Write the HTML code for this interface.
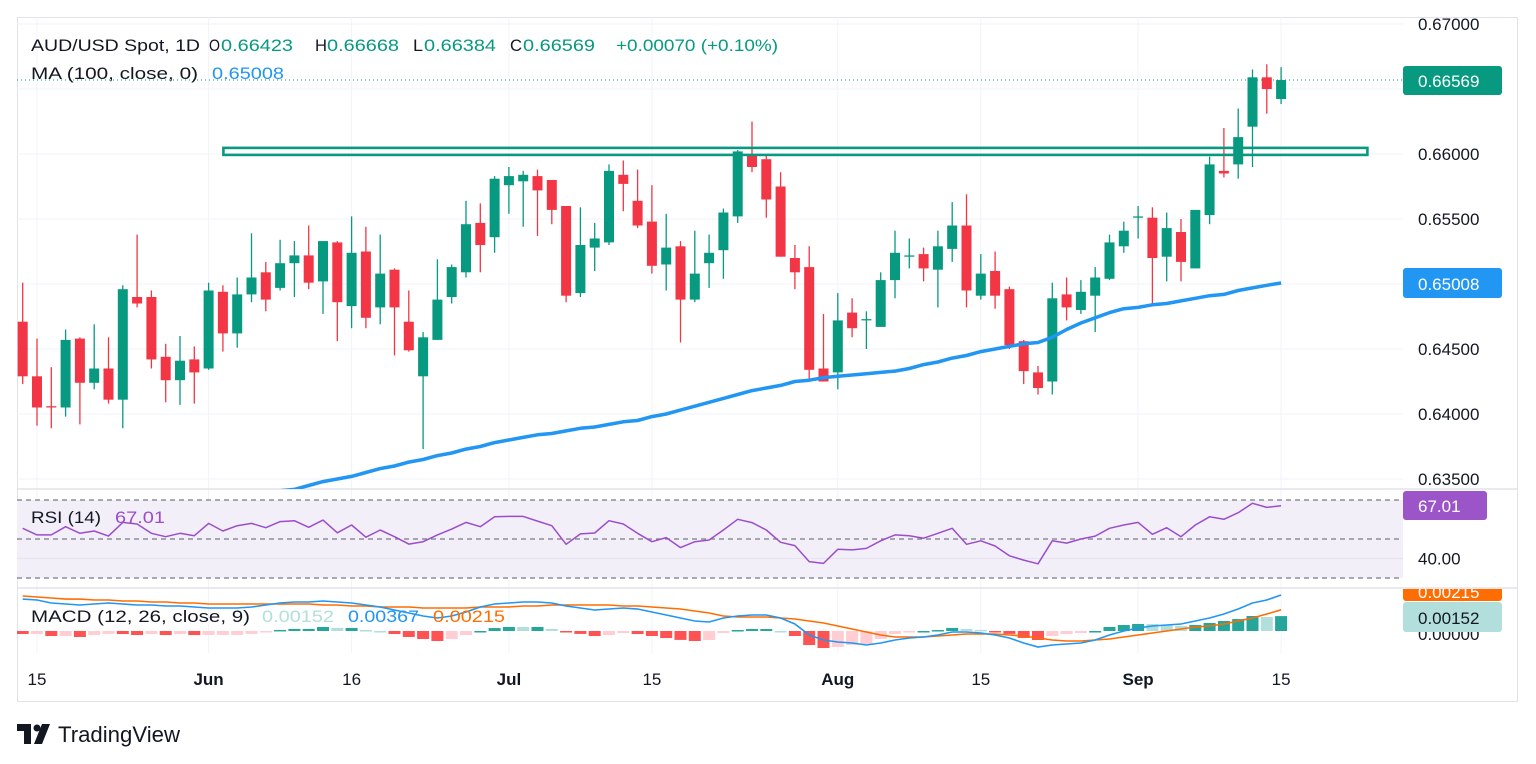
<!DOCTYPE html>
<html><head><meta charset="utf-8"><title>AUD/USD Chart</title>
<style>
html,body{margin:0;padding:0;background:#fff;}
svg{display:block;font-family:"Liberation Sans",sans-serif;}
</style></head>
<body>
<svg id="chart" width="1536" height="764" viewBox="0 0 1536 764" xmlns="http://www.w3.org/2000/svg">
<defs>
<clipPath id="mainClip"><rect x="17" y="17" width="1386" height="472"/></clipPath>
<clipPath id="rsiClip"><rect x="17" y="489" width="1386" height="99"/></clipPath>
<clipPath id="macdClip"><rect x="17" y="588" width="1386" height="65"/></clipPath>
<clipPath id="macdAxisClip"><rect x="1403" y="589" width="115" height="64"/></clipPath>
</defs>
</svg>
<script>
const opens=[.6471,.6429,.6406,.6405,.6458,.6424,.6435,.6411,.6490,.6490,.6444,.6426,.6442,.6435,.6494,.6462,.6492,.6509,.6497,.6516,.6522,.6502,.6532,.6483,.6525,.6482,.6511,.6471,.6429,.6457,.6490,.6509,.6547,.6536,.6576,.6579,.6583,.6580,.6560,.6493,.6528,.6532,.6584,.6564,.6548,.6515,.6529,.6488,.6516,.6526,.6552,.6600,.6596,.6575,.6520,.6513,.6435,.6432,.6478,.6473,.6467,.6503,.6522,.6523,.6511,.6527,.6545,.6491,.6510,.6496,.6456,.6432,.6425,.6492,.6480,.6491,.6504,.6529,.6551,.6551,.6521,.6540,.6512,.6553,.6587,.6592,.6621,.6659,.66423];
const highs=[.6501,.6458,.6436,.6465,.6459,.6469,.6459,.6499,.6538,.6495,.6454,.6460,.6452,.6501,.6499,.6505,.6539,.6517,.6534,.6533,.6545,.6533,.6533,.6552,.6544,.6538,.6512,.6495,.6463,.6519,.6515,.6564,.6562,.6583,.6590,.6587,.6588,.6580,.6560,.6559,.6547,.6592,.6595,.6588,.6576,.6554,.6533,.6541,.6538,.6558,.6603,.6625,.6599,.6586,.6530,.6529,.6477,.6493,.6489,.6479,.6509,.6541,.6535,.6528,.6541,.6563,.6569,.6523,.6525,.6498,.6457,.6437,.6501,.6505,.6503,.6513,.6538,.6548,.6560,.6559,.6555,.6550,.6557,.6598,.6620,.6635,.6665,.6669,.66668];
const lows=[.6423,.6391,.6389,.6398,.6392,.6419,.6408,.6389,.6482,.6435,.6409,.6407,.6408,.6434,.6448,.6451,.6486,.6479,.6495,.6490,.6496,.6477,.6456,.6466,.6466,.6469,.6445,.6448,.6373,.6457,.6485,.6505,.6509,.6524,.6554,.6544,.6537,.6546,.6486,.6490,.6510,.6530,.6556,.6543,.6508,.6495,.6455,.6486,.6497,.6504,.6547,.6586,.6551,.6521,.6496,.6426,.6425,.6419,.6459,.6450,.6467,.6489,.6512,.6502,.6482,.6517,.6482,.6488,.6481,.6450,.6423,.6415,.6415,.6472,.6477,.6463,.6503,.6524,.6535,.6483,.6502,.6502,.6512,.6546,.6582,.6581,.6590,.6631,.66384];
const closes=[.6429,.6405,.6405,.6457,.6424,.6435,.6411,.6496,.6485,.6442,.6426,.6441,.6432,.6495,.6462,.6492,.6505,.6488,.6516,.6522,.6501,.6533,.6486,.6524,.6474,.6508,.6482,.6449,.6459,.6488,.6513,.6546,.6530,.6581,.6583,.6584,.6572,.6557,.6491,.6530,.6535,.6587,.6577,.6545,.6514,.6528,.6488,.6508,.6524,.6555,.6602,.6590,.6565,.6521,.6509,.6434,.6425,.6472,.6466,.6473,.6503,.6524,.6522,.6512,.6529,.6545,.6495,.6508,.6491,.6453,.6433,.6420,.6489,.6482,.6494,.6505,.6532,.6541,.6552,.6520,.6543,.6517,.6557,.6592,.6585,.6613,.6659,.6650,.66569];
const ma100=[.6299,.6302,.6304,.6306,.6309,.6311,.6313,.6315,.6318,.6320,.6322,.6325,.6327,.6329,.6332,.6334,.6336,.6339,.6341,.6342,.6345,.6348,.6350,.6352,.6355,.6358,.6360,.6363,.6365,.6368,.6370,.6373,.6375,.6378,.6380,.6382,.6384,.6385,.6387,.6389,.6390,.6392,.6394,.6395,.6398,.6400,.6403,.6406,.6409,.6412,.6415,.6418,.6420,.6422,.6425,.6426,.6428,.6429,.6430,.6431,.6432,.6433,.6435,.6438,.6440,.6443,.6445,.6448,.6450,.6452,.6454,.6455,.6459,.6465,.6470,.6474,.6478,.6481,.6482,.6484,.6485,.6487,.6489,.6491,.6492,.6495,.6497,.6499,.65008];
const rsi=[55.5,52.1,52.1,56.3,52.9,54.1,51.5,58.5,57.7,52.9,51.2,52.9,51.7,58.0,54.1,56.8,58.0,55.8,58.9,59.4,56.0,59.7,53.2,57.2,50.9,54.6,51.2,47.4,48.6,52.1,55.1,58.5,56.3,61.4,61.6,61.6,59.2,56.8,47.3,52.6,53.1,59.4,57.7,52.9,48.6,50.7,45.6,48.6,49.5,54.6,60.1,58.4,54.6,48.3,46.6,38.4,37.5,44.7,44.4,45.2,49.1,52.1,51.7,50.4,52.9,55.5,47.3,49.1,46.4,41.4,39.2,37.3,49.1,47.9,50.0,51.5,55.5,57.2,58.5,52.4,55.8,51.2,57.2,61.4,60.1,63.5,68.3,66.2,67.01];
const macdLine=[.00326,.00316,.00286,.00275,.00265,.00275,.00286,.00275,.00265,.00265,.00255,.00255,.00245,.00235,.00235,.00235,.00245,.00265,.00286,.00296,.00296,.00306,.00296,.00286,.00265,.00245,.00214,.00184,.00153,.00133,.00153,.00194,.00245,.00275,.00286,.00296,.00296,.00286,.00255,.00235,.00214,.00224,.00235,.00224,.00194,.00163,.00133,.00102,.00092,.00133,.00153,.00163,.00163,.00133,.00071,-.00041,-.00092,-.00112,-.00122,-.00143,-.00122,-.00092,-.00071,-.00061,-.00041,-.0001,-.0001,-.0002,-.00041,-.00071,-.00122,-.00163,-.00143,-.00133,-.00122,-.00092,-.00041,0,.00031,.00051,.00061,.00071,.00102,.00133,.00173,.00224,.00286,.00316,.00367];
const signalLine=[.00357,.00347,.00337,.00326,.00326,.00316,.00316,.00306,.00306,.00296,.00296,.00286,.00286,.00275,.00275,.00275,.00275,.00275,.00275,.00275,.00275,.00265,.00265,.00255,.00255,.00245,.00245,.00245,.00235,.00235,.00235,.00235,.00245,.00245,.00245,.00255,.00255,.00265,.00265,.00265,.00265,.00265,.00255,.00255,.00245,.00235,.00224,.00204,.00184,.00153,.00143,.00143,.00143,.00133,.00122,.00102,.00082,.00051,.0002,-.0001,-.00041,-.00061,-.00061,-.00061,-.00051,-.00041,-.00031,-.00031,-.00031,-.00041,-.00051,-.00071,-.00092,-.00102,-.00102,-.00092,-.00082,-.00061,-.00041,-.0002,0,.0002,.00041,.00051,.00071,.00102,.00133,.00173,.00215];
const dateLabels=['15','Jun','16','Jul','15','Aug','15','Sep','15'];
const dateIndex=[1,13,23,34,44,57,67,78,88];
const dateBold=[false,true,false,true,false,true,false,true,false];
const priceTicks=[0.670,0.665,0.660,0.655,0.650,0.645,0.640,0.635];
const priceTickLabels=['0.67000','0.66500','0.66000','0.65500','0.65000','0.64500','0.64000','0.63500'];
const resistanceTop=0.66047, resistanceBottom=0.65993;
const resistanceStart=14, resistanceEnd=94;

const NS='http://www.w3.org/2000/svg';
const svg=document.getElementById('chart');
function mk(tag,attrs,parent){const e=document.createElementNS(NS,tag);for(const k in attrs)e.setAttribute(k,attrs[k]);(parent||svg).appendChild(e);return e;}
const xOf=i=>22.7+14.3*i;
const yP=p=>24+(0.67-p)*13000;
const yR=v=>500+(70-v)*1.95;
const yM=v=>631-v*9800;

// frame
let e=mk('rect',{x:17.5,y:17.5,width:1500,height:684,fill:'none',stroke:'#e0e3eb'});



// horizontal grid (main)
priceTicks.forEach(p=>{const g=mk('line',{x1:17,x2:1403,y1:yP(p),y2:yP(p),stroke:'#f0f3fa','stroke-width':1});

});
// vertical grid
dateIndex.forEach(i=>{const g=mk('line',{x1:xOf(i),x2:xOf(i),y1:17,y2:653,stroke:'#f0f3fa','stroke-width':1});

});

// pane separators
[489,588].forEach(y=>{const s=mk('line',{x1:17,x2:1518,y1:y,y2:y,stroke:'#e0e3eb','stroke-width':1.5});

});

// main pane
const mainG=mk('g',{'clip-path':'url(#mainClip)'});


// last price dotted line
e=mk('line',{x1:17,x2:1403,y1:yP(closes[closes.length-1]),y2:yP(closes[closes.length-1]),stroke:'#089981','stroke-width':1,'stroke-dasharray':'1,3'},mainG);


// candles
for(let i=0;i<opens.length;i++){
  const up=closes[i]>=opens[i];const col=up?'#089981':'#f23645';
  const x=xOf(i);
  const g=mk('g',{},mainG);
  
  
  mk('line',{x1:x,x2:x,y1:yP(highs[i]),y2:yP(lows[i]),stroke:col,'stroke-width':1.3},g);
  const t=yP(Math.max(opens[i],closes[i])),b=yP(Math.min(opens[i],closes[i]));
  mk('rect',{x:x-5,y:t,width:10,height:Math.max(1.3,b-t),fill:col},g);
}
// MA line
let d='';ma100.forEach((v,i)=>{d+=(i?'L':'M')+xOf(i).toFixed(1)+','+yP(v).toFixed(1);});
e=mk('path',{d:d,fill:'none',stroke:'#2196f3','stroke-width':3.5,'stroke-linejoin':'round'},mainG);


// resistance box
e=mk('rect',{x:xOf(resistanceStart)+0.5,y:yP(resistanceTop),width:xOf(resistanceEnd)-xOf(resistanceStart),height:yP(resistanceBottom)-yP(resistanceTop),fill:'none',stroke:'#089981','stroke-width':2.6},mainG);



// RSI pane
const rsiG=mk('g',{'clip-path':'url(#rsiClip)'});


e=mk('rect',{x:17,y:yR(70),width:1386,height:yR(30)-yR(70),fill:'#f2eff9'},rsiG);


e=mk('line',{x1:17,x2:1403,y1:yR(40),y2:yR(40),stroke:'#e6e2f0'},rsiG);


[70,50,30].forEach(v=>{const l=mk('line',{x1:17,x2:1403,y1:yR(v),y2:yR(v),stroke:'#787b86','stroke-width':1.2,'stroke-dasharray':'5,4'},rsiG);

});
d='';rsi.forEach((v,i)=>{d+=(i?'L':'M')+xOf(i).toFixed(1)+','+yR(v).toFixed(1);});
e=mk('path',{d:d,fill:'none',stroke:'#9c4dcc','stroke-width':1.5,'stroke-linejoin':'round'},rsiG);



// MACD pane
const macdG=mk('g',{'clip-path':'url(#macdClip)'});


let prevH=0;
for(let i=0;i<macdLine.length;i++){
  const h=macdLine[i]-signalLine[i];
  let col;
  if(h>=0) col=(h>=prevH)?'#26a69a':'#b2dfdb'; else col=(h<prevH)?'#ff5252':'#ffcdd2';
  prevH=h;
  const y0=yM(0),y1=yM(h);
  const r=mk('rect',{x:xOf(i)-6,y:Math.min(y0,y1),width:12,height:Math.max(1.5,Math.abs(y1-y0)),fill:col},macdG);
  
  
}
d='';signalLine.forEach((v,i)=>{d+=(i?'L':'M')+xOf(i).toFixed(1)+','+yM(v).toFixed(1);});
e=mk('path',{d:d,fill:'none',stroke:'#ff6d00','stroke-width':1.6},macdG);


d='';macdLine.forEach((v,i)=>{d+=(i?'L':'M')+xOf(i).toFixed(1)+','+yM(v).toFixed(1);});
e=mk('path',{d:d,fill:'none',stroke:'#2196f3','stroke-width':1.6},macdG);



// text helper
function txt(str,x,y,attrs,name){const t=mk('text',Object.assign({x:x,y:y,'font-size':17,fill:'#131722'},attrs||{}));t.textContent=str;return t;}

// price axis labels
priceTicks.forEach((p,k)=>{const t=txt(priceTickLabels[k],1418,yP(p)+6);

});
// last price tag
e=mk('rect',{x:1403,y:66,width:99,height:29,rx:3,fill:'#089981'});


e=txt('0.66569',1418,87,{fill:'#ffffff'});


e=mk('rect',{x:1403,y:268,width:99,height:30,rx:3,fill:'#2196f3'});


e=txt('0.65008',1418,290,{fill:'#ffffff'});


// RSI axis
e=txt('40.00',1418,yR(40)+6);


e=mk('rect',{x:1403,y:491,width:84,height:29,rx:3,fill:'#9c55c8'});


e=txt('67.01',1418,512,{fill:'#ffffff'});


// MACD axis
const axG=mk('g',{'clip-path':'url(#macdAxisClip)'});


e=mk('text',{x:1418,y:640,'font-size':17,fill:'#131722'},axG);e.textContent='0.00000';


e=mk('rect',{x:1403,y:583,width:99,height:18,rx:3,fill:'#ff6d00'},axG);


e=mk('text',{x:1418,y:598,'font-size':17,fill:'#ffffff'},axG);e.textContent='0.00215';


e=mk('rect',{x:1403,y:602,width:99,height:30,rx:3,fill:'#b2dfdb'},axG);


e=mk('text',{x:1418,y:624,'font-size':17,fill:'#131722'},axG);e.textContent='0.00152';



// date labels
dateLabels.forEach((s,k)=>{const t=txt(s,xOf(dateIndex[k]),685,{'text-anchor':'middle','font-weight':dateBold[k]?'bold':'normal'});

});

// legends
function piece(str,x,y,len,col,name){const t=txt(str,x,y,{fill:col,textLength:len,lengthAdjust:'spacingAndGlyphs'});

}
piece('AUD/USD Spot, 1D',31,51,169,'#131722','symbol-title');
piece('O',209,51,11,'#131722','open-label');piece('0.66423',221,51,72,'#089981','open-value');
piece('H',315,51,12,'#131722','high-label');piece('0.66668',327,51,72,'#089981','high-value');
piece('L',413,51,10,'#131722','low-label');piece('0.66384',424,51,72,'#089981','low-value');
piece('C',510,51,12,'#131722','close-label');piece('0.66569',523,51,72,'#089981','close-value');
piece('+0.00070 (+0.10%)',616,51,162,'#089981','change-value');
piece('MA (100, close, 0)',31,79,167,'#131722','ma-legend-title');
piece('0.65008',212,79,72,'#2196f3','ma-legend-value');
piece('RSI (14)',31,523,70,'#131722','rsi-legend-title');
piece('67.01',115,523,50,'#9c4dcc','rsi-legend-value');
piece('MACD (12, 26, close, 9)',31,622,219,'#131722','macd-legend-title');
piece('0.00152',262,622,72,'#b2dfdb','macd-hist-value');
piece('0.00367',348,622,71,'#2196f3','macd-line-value');
piece('0.00215',433,622,72,'#ff6d00','macd-signal-value');

// TradingView logo
const lg=mk('g',{});


mk('path',{d:'M17 724 H31 V744 H24 V731 H17 Z',fill:'#131722'},lg);
mk('circle',{cx:37,cy:728,r:3.5,fill:'#131722'},lg);
mk('path',{d:'M42 724 H50 L42 744 H34 Z',fill:'#131722'},lg);
e=mk('text',{x:58,y:742,'font-size':22,fill:'#131722',textLength:122,lengthAdjust:'spacingAndGlyphs'},lg);e.textContent='TradingView';
</script>
</body></html>
